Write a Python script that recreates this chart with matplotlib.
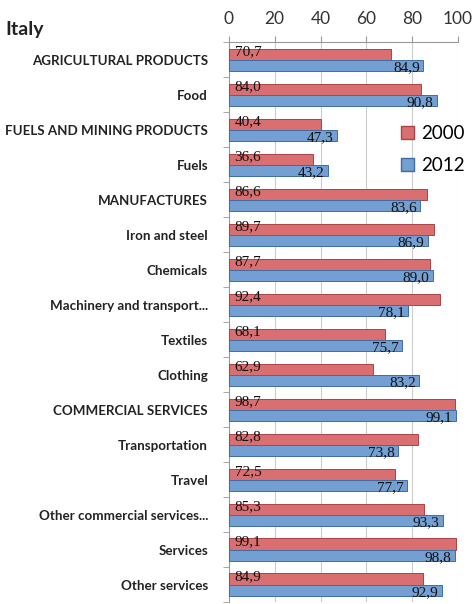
import matplotlib
matplotlib.use("Agg")
import matplotlib.pyplot as plt
from matplotlib.patches import Patch
import numpy as np

# data
categories = ["AGRICULTURAL PRODUCTS", "Food", "FUELS AND MINING PRODUCTS", "Fuels",
              "MANUFACTURES", "Iron and steel", "Chemicals", "Machinery and transport...",
              "Textiles", "Clothing", "COMMERCIAL SERVICES", "Transportation", "Travel",
              "Other commercial services...", "Services", "Other services"]
val_2000 = [70.7, 84.0, 40.4, 36.6, 86.6, 89.7, 87.7, 92.4, 68.1, 62.9, 98.7, 82.8, 72.5, 85.3, 99.1, 84.9]
val_2012 = [84.9, 90.8, 47.3, 43.2, 83.6, 86.9, 89.0, 78.1, 75.7, 83.2, 99.1, 73.8, 77.7, 93.3, 98.8, 92.9]
xticks = [0, 20, 40, 60, 80, 100]

red = "#DA6F71"
blue = "#739FD3"
red_edge = "#A94448"
blue_edge = "#3F6CA3"

fig = plt.figure(figsize=(4.73, 6.04), dpi=100)
ax = fig.add_axes([0.484, 0.003, 0.484, 0.927])

y = np.arange(len(categories))
h = 0.32
ax.barh(y - h / 2, val_2000, height=h, color=red, edgecolor=red_edge, linewidth=0.7, zorder=3)
ax.barh(y + h / 2, val_2012, height=h, color=blue, edgecolor=blue_edge, linewidth=0.7, zorder=3)

def fmt(v):
    return "{:.1f}".format(v).replace(".", ",")

for i in range(len(categories)):
    ax.text(2.5, y[i] - h / 2 - 0.08, fmt(val_2000[i]), ha="left", va="center",
            fontsize=11, family="Liberation Serif", color="#111111", zorder=4)
    ax.text(val_2012[i] - 1.5, y[i] + h / 2 + 0.06, fmt(val_2012[i]), ha="right", va="center",
            fontsize=11, family="Liberation Serif", color="#111111", zorder=4)

ax.set_xlim(0, 100)
ax.set_ylim(len(categories) - 0.5, -0.5)
ax.set_xticks(xticks)
ax.xaxis.tick_top()
ax.tick_params(axis="x", length=4, color="#999999", labelsize=12.5, labelcolor="#333333", pad=7)
for lab in ax.get_xticklabels():
    lab.set_family("Lato")

ax.set_yticks(y)
ax.set_yticklabels(categories, family="Lato", fontweight="bold", fontsize=9.6, color="#222222")
ax.tick_params(axis="y", length=0, pad=15)
ax.set_yticks(np.arange(-0.5, len(categories), 1), minor=True)
ax.tick_params(axis="y", which="minor", length=4, color="#999999")

ax.grid(axis="x", color="#CCCCCC", linewidth=0.8, zorder=0)
for s in ["right", "bottom"]:
    ax.spines[s].set_visible(False)
ax.spines["top"].set_color("#999999")
ax.spines["left"].set_color("#999999")

handles = [Patch(facecolor=red, edgecolor=red_edge, label="2000"),
           Patch(facecolor=blue, edgecolor=blue_edge, label="2012")]
fig.legend(handles=handles, loc="center", bbox_to_anchor=(0.915, 0.752), frameon=False,
           prop={"family": "Lato", "size": 13.5}, handlelength=0.7, handleheight=0.7,
           labelspacing=0.8, handletextpad=0.4)

fig.text(0.012, 0.942, "Italy", family="Lato", fontweight="bold", fontsize=14, color="#222222")

fig.savefig("out.png", dpi=100)
